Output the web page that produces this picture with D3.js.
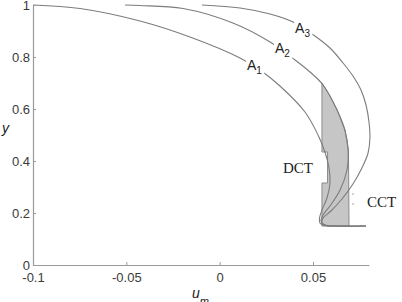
<!DOCTYPE html>
<html><head><meta charset="utf-8">
<script src="https://cdn.jsdelivr.net/npm/d3@7"></script>
<style>html,body{margin:0;padding:0;background:#fff}svg{display:block}</style>
</head><body>
<script>
// ---- data ----
const xTicks = [-0.1, -0.05, 0, 0.05];
const yTicks = [0, 0.2, 0.4, 0.6, 0.8, 1];
const curveA1 = [[-0.1,1.0],[-0.0748,0.9865],[-0.0427,0.9385],[-0.0159,0.8769],[0.0109,0.7962],[0.0216,0.75],[0.0323,0.6885],[0.0457,0.5885],[0.0527,0.5],[0.0564,0.4346],[0.0586,0.3731],[0.0591,0.3154],[0.0575,0.2577],[0.0548,0.2115],[0.0535,0.1808],[0.0537,0.1615],[0.0559,0.1519],[0.0602,0.15],[0.0784,0.15]];
const curveA2 = [[-0.0507,1.0],[-0.0427,0.998],[-0.0196,0.9865],[0.0071,0.9308],[0.027,0.8577],[0.0404,0.7885],[0.0484,0.7423],[0.0554,0.6923],[0.0629,0.5962],[0.0671,0.5192],[0.0688,0.4423],[0.0682,0.3654],[0.0645,0.2885],[0.0591,0.2269],[0.0554,0.1923],[0.0543,0.1692],[0.0564,0.1538],[0.0618,0.15],[0.0784,0.15]];
const curveA3 = [[-0.0095,1.0],[0.0109,0.9885],[0.027,0.9654],[0.0393,0.9346],[0.0495,0.8885],[0.0591,0.8346],[0.0661,0.7769],[0.0714,0.7269],[0.0757,0.6731],[0.0784,0.6154],[0.08,0.55],[0.0805,0.4885],[0.0795,0.4308],[0.0762,0.3731],[0.0714,0.3115],[0.0655,0.2538],[0.0596,0.2077],[0.0554,0.1808],[0.0546,0.1635],[0.057,0.1519],[0.0634,0.15],[0.0784,0.15]];
const shadedRegion = [[0.0548,0.700],[0.0591,0.650],[0.0629,0.5962],[0.0671,0.5192],[0.0690,0.4423],[0.0693,0.15],[0.0548,0.15],[0.0548,0.3154],[0.0578,0.3154],[0.0578,0.4346],[0.0548,0.4346]];
const curveLabels = [{name:"A",sub:"1",u:0.0146,v:0.75},{name:"A",sub:"2",u:0.0296,v:0.8154},{name:"A",sub:"3",u:0.0404,v:0.8923}];
const regionLabels = [{text:"DCT",u:0.0339,v:0.3538},{text:"CCT",u:0.0789,v:0.2231}];
const dots = [[0.0714,0.273],[0.0714,0.2346]];

// ---- drawing ----
const W=402,H=302;
const svg=d3.select("body").append("svg").attr("width",W).attr("height",H);
const x=d3.scaleLinear().domain([-0.1,0.08]).range([33,369]);
const y=d3.scaleLinear().domain([0,1]).range([265,5]);

const axisColor="#9a9a9a", textColor="#3a3a3a", lineColor="#7c7c7c";

// shaded region
const poly=d3.line().x(d=>x(d[0])).y(d=>y(d[1]));
svg.append("path").datum(shadedRegion)
  .attr("d",d=>poly(d)+"Z")
  .attr("fill","#c6c6c6").attr("stroke","#8a8a8a").attr("stroke-width",1);

// curves
const line=d3.line().x(d=>x(d[0])).y(d=>y(d[1])).curve(d3.curveCatmullRom.alpha(0.5));
[curveA1,curveA2,curveA3].forEach(c=>{
  svg.append("path").datum(c).attr("d",line).attr("fill","none")
    .attr("stroke",lineColor).attr("stroke-width",1.1);
});

// curve labels with white gap behind
curveLabels.forEach(l=>{
  const g=svg.append("g");
  const t=g.append("text").attr("x",x(l.u)).attr("y",y(l.v))
    .attr("font-family","Liberation Sans, Arial, sans-serif").attr("font-size",14).attr("fill","#222");
  t.append("tspan").text(l.name);
  t.append("tspan").attr("font-size",10).attr("dy",4).text(l.sub);
  const b=t.node().getBBox();
  g.insert("rect","text").attr("x",b.x-1).attr("y",b.y).attr("width",b.width+3).attr("height",b.height+1).attr("fill","#fff");
});

// region labels
regionLabels.forEach(l=>{
  svg.append("text").attr("x",x(l.u)).attr("y",y(l.v))
    .attr("font-family","Liberation Serif, Times New Roman, serif").attr("font-size",15).attr("fill","#222").text(l.text);
});
svg.selectAll("circle.dot").data(dots).enter().append("circle").attr("class","dot")
  .attr("cx",d=>x(d[0])).attr("cy",d=>y(d[1])).attr("r",0.7).attr("fill","#888");

// axes
const gx=svg.append("g").attr("transform","translate(0,265)")
  .call(d3.axisBottom(x).tickValues(xTicks).tickSizeInner(-3).tickSizeOuter(0).tickPadding(8).tickFormat(d=>String(d)));
const gy=svg.append("g").attr("transform","translate(33,0)")
  .call(d3.axisLeft(y).tickValues(yTicks).tickSizeInner(-3).tickSizeOuter(0).tickPadding(3).tickFormat(d=>String(d)));
[gx,gy].forEach(g=>{
  g.select(".domain").attr("stroke",axisColor).attr("stroke-width",1.2);
  g.selectAll(".tick line").attr("stroke",axisColor);
  g.selectAll(".tick text").attr("fill",textColor).attr("font-size",13)
    .attr("font-family","Liberation Sans, Arial, sans-serif");
});

// axis titles
svg.append("text").attr("x",2).attr("y",133).attr("font-family","Liberation Sans, Arial, sans-serif")
  .attr("font-style","italic").attr("font-size",14).attr("fill","#222").text("y");
const ux=svg.append("text").attr("x",192).attr("y",298).attr("font-family","Liberation Sans, Arial, sans-serif")
  .attr("font-style","italic").attr("font-size",14).attr("fill","#222");
ux.append("tspan").text("u");
ux.append("tspan").attr("font-size",11).attr("dy",7).text("m");
</script>
</body></html>
